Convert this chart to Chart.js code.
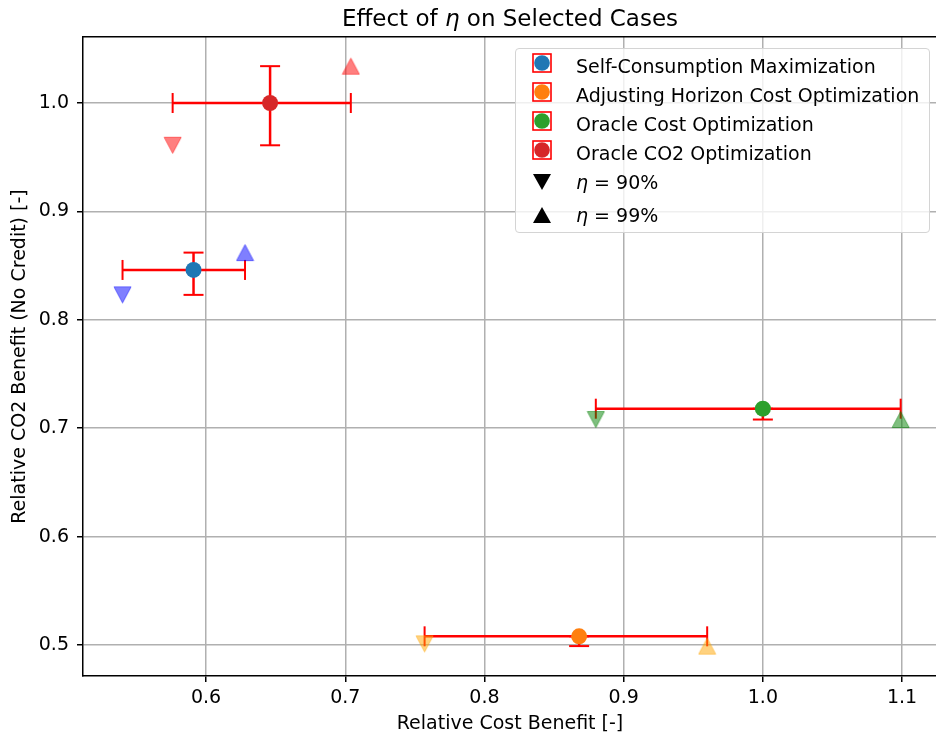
<!DOCTYPE html>
<html>
<head>
<meta charset="utf-8">
<script src="https://cdn.jsdelivr.net/npm/chart.js@4.4.1/dist/chart.umd.min.js"></script>
<style>
  body { margin: 0; background: #fff; overflow: hidden; }
  #wrap { position: relative; width: 936px; height: 742px; overflow: hidden; font-family: 'DejaVu Sans', sans-serif; color: #000; }
  #chart { position: absolute; left: 0; top: 0; }
  #title { position: absolute; left: 83px; width: 854px; top: 5px; text-align: center; font-size: 23px; white-space: nowrap; }
  #legend { position: absolute; left: 515px; top: 48px; width: 413px; height: 183px; border: 1px solid #d4d4d4; border-radius: 4px; background: rgba(255, 255, 255, 0.8); padding-top: 5.5px; box-sizing: content-box; }
  #legend .row { position: relative; height: 29px; font-size: 19px; line-height: 22px; white-space: nowrap; }
  #legend .row.eta { height: 33.5px; }
  #legend .row svg { position: absolute; left: 16px; top: -1.2px; }
  #legend .row.eta svg { top: 2px; }
  #legend .row span { position: absolute; left: 60px; top: 0; }
</style>
</head>
<body>
<div id="wrap">
  <canvas id="chart" width="950" height="742"></canvas>
  <div id="title">Effect of <i>η</i> on Selected Cases</div>
  <div id="legend" style="height:177.5px"></div>
</div>
<script>
// values
const cases = ['Self-Consumption Maximization', 'Adjusting Horizon Cost Optimization', 'Oracle Cost Optimization', 'Oracle CO2 Optimization'];
const centerX = [0.591, 0.868, 1.0, 0.646];
const centerY = [0.846, 0.508, 0.718, 1.0];
const eta90X = [0.540, 0.757, 0.880, 0.576];
const eta90Y = [0.823, 0.501, 0.708, 0.961];
const eta99X = [0.628, 0.960, 1.099, 0.704];
const eta99Y = [0.862, 0.499, 0.708, 1.034];
const etaLabels = ['90%', '99%'];
const xTicks = [0.6, 0.7, 0.8, 0.9, 1.0, 1.1];
const yTicks = [0.5, 0.6, 0.7, 0.8, 0.9, 1.0];

const caseColors = ['#1f77b4', '#ff7f0e', '#2ca02c', '#d62728'];
const etaColors = ['rgba(0,0,255,0.5)', 'rgba(255,165,0,0.5)', 'rgba(0,128,0,0.5)', 'rgba(255,0,0,0.5)'];

Chart.defaults.font.family = "'DejaVu Sans', sans-serif";
Chart.defaults.color = '#000';

// matplotlib style triangle marker (as wide as tall)
function triangle(color, down) {
  const c = document.createElement('canvas');
  c.width = 19;
  c.height = 19;
  const g = c.getContext('2d');
  g.beginPath();
  if (down) {
    g.moveTo(1, 1.5); g.lineTo(18, 1.5); g.lineTo(9.5, 17.5);
  } else {
    g.moveTo(9.5, 1.5); g.lineTo(1, 17.5); g.lineTo(18, 17.5);
  }
  g.closePath();
  g.fillStyle = color;
  g.fill();
  g.strokeStyle = color;
  g.lineWidth = 1;
  g.stroke();
  return c;
}

const datasets = [];
cases.forEach((name, i) => {
  const xs = [centerX[i], eta90X[i], eta99X[i]];
  const ys = [centerY[i], eta90Y[i], eta99Y[i]];
  const errStyle = {
    showLine: true,
    borderColor: 'red',
    borderWidth: 2.5,
    pointStyle: 'line',
    pointRadius: 10,
    pointBorderColor: 'red',
    pointBorderWidth: 2,
    order: 3
  };
  // error bars span the two eta results
  datasets.push(Object.assign({
    label: name + ' x',
    data: [{ x: Math.min(...xs), y: centerY[i] }, { x: Math.max(...xs), y: centerY[i] }],
    pointRotation: 90
  }, errStyle));
  datasets.push(Object.assign({
    label: name + ' y',
    data: [{ x: centerX[i], y: Math.min(...ys) }, { x: centerX[i], y: Math.max(...ys) }],
    pointRotation: 0
  }, errStyle));
  datasets.push({
    label: name,
    data: [{ x: centerX[i], y: centerY[i] }],
    pointStyle: 'circle',
    pointRadius: 8,
    backgroundColor: caseColors[i],
    borderColor: caseColors[i],
    borderWidth: 0,
    order: 2
  });
  datasets.push({
    label: etaLabels[0],
    data: [{ x: eta90X[i], y: eta90Y[i] }],
    pointStyle: triangle(etaColors[i], true),
    pointRadius: 9,
    order: 1
  });
  datasets.push({
    label: etaLabels[1],
    data: [{ x: eta99X[i], y: eta99Y[i] }],
    pointStyle: triangle(etaColors[i], false),
    pointRadius: 9,
    order: 1
  });
});

const gridStyle = { color: '#b0b0b0', lineWidth: 1.5, tickColor: '#000', tickLength: 6, tickWidth: 1.5 };
const borderStyle = { color: '#000', width: 1.5 };

new Chart(document.getElementById('chart'), {
  type: 'scatter',
  data: { datasets },
  options: {
    responsive: false,
    animation: false,
    events: [],
    layout: { padding: { top: 37, right: 13, left: 0, bottom: 0 } },
    plugins: { legend: { display: false }, tooltip: { enabled: false } },
    scales: {
      x: {
        type: 'linear',
        min: 0.5116,
        max: 1.1251,
        afterBuildTicks: (s) => { s.ticks = xTicks.map((v) => ({ value: v })); },
        afterFit: (s) => { s.height = 66; },
        ticks: { font: { size: 19 }, padding: 4.6, callback: (v) => v.toFixed(1) },
        grid: gridStyle,
        border: borderStyle,
        title: { display: true, text: 'Relative Cost Benefit [-]', font: { size: 19 }, padding: { top: 0, bottom: 6.6 } }
      },
      x2: {
        type: 'linear',
        position: 'top',
        min: 0.5116,
        max: 1.1251,
        afterFit: (s) => { s.height = 0; },
        ticks: { display: false },
        grid: { drawOnChartArea: false, drawTicks: false },
        border: borderStyle
      },
      y: {
        type: 'linear',
        min: 0.4714,
        max: 1.0609,
        afterBuildTicks: (s) => { s.ticks = yTicks.map((v) => ({ value: v })); },
        afterFit: (s) => { s.width = 83; },
        ticks: { font: { size: 19 }, padding: 8, callback: (v) => v.toFixed(1) },
        grid: gridStyle,
        border: borderStyle,
        title: { display: true, text: 'Relative CO2 Benefit (No Credit) [-]', font: { size: 19 }, padding: { top: 8.6, bottom: 0 } }
      }
    }
  }
});

// legend: errorbar handles for the cases, black triangles for eta
const legend = document.getElementById('legend');
cases.forEach((name, i) => {
  const row = document.createElement('div');
  row.className = 'row';
  row.innerHTML = '<svg width="20" height="20"><rect x="1" y="1" width="18" height="18" fill="none" stroke="red" stroke-width="1.6"/>' +
    '<circle cx="10" cy="10" r="7.8" fill="' + caseColors[i] + '"/></svg><span></span>';
  row.querySelector('span').textContent = name;
  legend.appendChild(row);
});
etaLabels.forEach((lab, k) => {
  const row = document.createElement('div');
  row.className = 'row eta';
  const pts = k === 0 ? '1,1 19,1 10,17' : '10,1 1,17 19,17';
  row.innerHTML = '<svg width="20" height="18"><polygon points="' + pts + '" fill="#000"/></svg><span><i>η</i> = ' + lab + '</span>';
  legend.appendChild(row);
});
</script>
</body>
</html>
